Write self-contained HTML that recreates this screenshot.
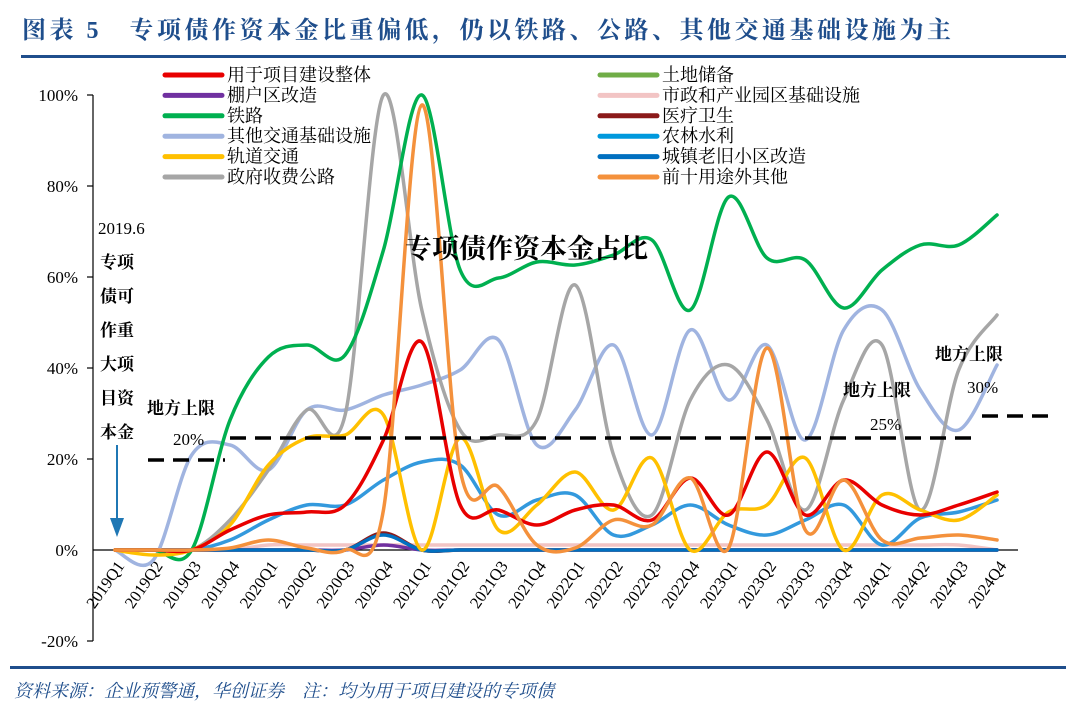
<!DOCTYPE html>
<html><head><meta charset="utf-8"><style>
body{margin:0;background:#fff;width:1080px;height:713px;overflow:hidden}
svg{display:block}
text{font-family:"Liberation Serif","Noto Serif CJK SC",serif}
</style></head><body>
<svg id="s" width="1080" height="713" xmlns="http://www.w3.org/2000/svg">
<text x="22" y="38" font-size="24" font-weight="bold" fill="#1f4e8c" letter-spacing="3.5">图表 5　专项债作资本金比重偏低，仍以铁路、公路、其他交通基础设施为主</text>
<rect x="21" y="55" width="1045" height="3" fill="#1f4e8c"/>
<rect x="10" y="666" width="1056" height="3" fill="#1f4e8c"/>
<text x="14" y="697" font-size="18" font-style="italic" fill="#1f4e8c">资料来源：企业预警通，华创证券　注：均为用于项目建设的专项债</text>
<g font-size="17" fill="#000" text-anchor="end">
<text x="78" y="101">100%</text><text x="78" y="192">80%</text><text x="78" y="283">60%</text><text x="78" y="374">40%</text><text x="78" y="465">20%</text><text x="78" y="556">0%</text><text x="78" y="647">-20%</text>
</g>
<g stroke="#000" stroke-width="1.2">
<line x1="93" y1="95" x2="93" y2="641"/>
<line x1="87" y1="95" x2="93" y2="95"/><line x1="87" y1="186" x2="93" y2="186"/><line x1="87" y1="277" x2="93" y2="277"/><line x1="87" y1="368" x2="93" y2="368"/><line x1="87" y1="459" x2="93" y2="459"/><line x1="87" y1="641" x2="93" y2="641"/>
<line x1="93" y1="550" x2="1018" y2="550"/>
</g>
<g id="xl" font-size="16.5"></g>
<g id="ser" fill="none" stroke-linecap="round"></g>
<g stroke="#000" stroke-width="3.5" stroke-dasharray="16,9">
<line x1="148" y1="460" x2="225" y2="460"/>
<line x1="230" y1="438" x2="980" y2="438"/>
<line x1="982" y1="416" x2="1048" y2="416"/>
</g>
<text x="405" y="258" font-size="27" font-weight="bold">专项债作资本金占比</text>
<g font-size="17" font-weight="bold">
<text x="98" y="234" font-weight="normal">2019.6</text>
<text x="100" y="268">专项</text><text x="100" y="302">债可</text><text x="100" y="336">作重</text><text x="100" y="370">大项</text><text x="100" y="404">目资</text><text x="100" y="438">本金</text>
<text x="147" y="414">地方上限</text><text x="843" y="396">地方上限</text><text x="935" y="360">地方上限</text>
</g>
<g font-size="17"><text x="173" y="445">20%</text><text x="870" y="430">25%</text><text x="967" y="393">30%</text></g>
<line x1="117" y1="445" x2="117" y2="522" stroke="#1f77b4" stroke-width="2"/>
<polygon points="110,518 124,518 117,537" fill="#1f77b4"/>
<g id="leg" font-size="18"></g>
</svg>
<script>
const X=i=>115+38.35*i;
const q=[];for(let y=2019;y<=2024;y++)for(let k=1;k<=4;k++)q.push(y+"Q"+k);
let xl=document.getElementById('xl');
q.forEach((t,i)=>{xl.innerHTML+=`<text transform="translate(${X(i)+10},566) rotate(-55)" text-anchor="end">${t}</text>`;});
function path(ys){let p=ys.map((y,i)=>[X(i),y]);let d=`M${p[0][0]},${p[0][1]}`;
for(let i=0;i<p.length-1;i++){let p0=p[i-1]||p[i],p1=p[i],p2=p[i+1],p3=p[i+2]||p2;
d+=` C${p1[0]+(p2[0]-p0[0])/6},${p1[1]+(p2[1]-p0[1])/6} ${p2[0]-(p3[0]-p1[0])/6},${p2[1]-(p3[1]-p1[1])/6} ${p2[0]},${p2[1]}`;}return d;}
const Z=Array(24).fill(550);
function bump(i,v,arr){let a=arr?arr.slice():Z.slice();a[i]=v;return a;}
const S=[
["#f2c4c4",Z.map((v,i)=>i>3&&i<23?545:550)],
["#7030a0",bump(7,545)],
["#8b1a1a",bump(7,533)],
["#0070c0",bump(7,535)],
["#3399dd",[550,550,550,540,520,505,505,480,462,465,515,500,495,535,525,505,525,535,520,505,545,518,512,500]],
["#a0b4e0",[550,560,455,445,470,410,410,395,385,370,340,445,410,345,435,330,400,345,440,330,310,390,430,365]],
["#a6a6a6",[550,550,550,520,470,410,415,95,310,430,435,420,285,455,515,400,365,420,510,400,345,510,370,315]],
["#00b050",[550,550,550,420,357,345,355,250,95,270,278,262,265,255,240,310,197,258,260,308,270,245,245,215]],
["#ffc000",[550,555,550,525,465,438,435,415,550,438,530,505,472,510,458,550,512,505,458,550,495,510,520,495]],
["#e80000",[550,550,550,530,515,512,505,440,342,505,510,525,510,505,520,478,515,452,515,480,505,515,505,492]],
["#f4913c",[550,550,550,548,540,548,550,510,105,470,487,545,548,520,525,478,548,348,530,480,540,538,535,540]],
];
let g=document.getElementById('ser');
S.forEach(([c,ys])=>{g.innerHTML+=`<path d="${path(ys)}" stroke="${c}" stroke-width="3.5"/>`;});
const L=[["#e80000","用于项目建设整体"],["#7030a0","棚户区改造"],["#00b050","铁路"],["#a0b4e0","其他交通基础设施"],["#ffc000","轨道交通"],["#a6a6a6","政府收费公路"]];
const R=[["#70ad47","土地储备"],["#f2c4c4","市政和产业园区基础设施"],["#8b1a1a","医疗卫生"],["#0099dd","农林水利"],["#0070c0","城镇老旧小区改造"],["#f4913c","前十用途外其他"]];
let lg=document.getElementById('leg');
[[L,165],[R,600]].forEach(([arr,x])=>arr.forEach(([c,t],i)=>{let y=75+20.4*i;
lg.innerHTML+=`<line x1="${x}" y1="${y}" x2="${x+57}" y2="${y}" stroke="${c}" stroke-width="5" stroke-linecap="round"/><text x="${x+62}" y="${y+6}">${t}</text>`;}));
</script>
</body></html>
